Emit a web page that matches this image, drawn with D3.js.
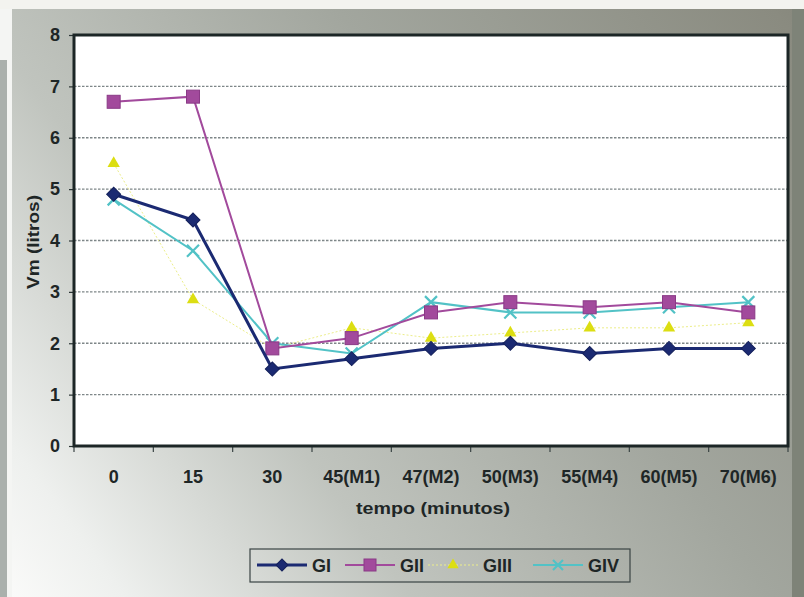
<!DOCTYPE html>
<html>
<head>
<meta charset="utf-8">
<script src="https://cdn.jsdelivr.net/npm/d3@7"></script>
<style>
  html, body { margin: 0; padding: 0; background: #ffffff; }
  svg { display: block; }
  text { font-family: "Liberation Sans", Arial, sans-serif; font-weight: bold; fill: #1e2626; }
</style>
</head>
<body>
<svg id="chart" width="804" height="597"></svg>
<script>
// Tempos de coleta (eixo X)
const categories = ["0", "15", "30", "45(M1)", "47(M2)", "50(M3)", "55(M4)", "60(M5)", "70(M6)"];
// Volume minuto (litros) por grupo
const gI   = [4.9, 4.4, 1.5, 1.7, 1.9, 2.0, 1.8, 1.9, 1.9];
const gII  = [6.7, 6.8, 1.9, 2.1, 2.6, 2.8, 2.7, 2.8, 2.6];
const gIII = [5.5, 2.85, 1.9, 2.3, 2.1, 2.2, 2.3, 2.3, 2.4];
const gIV  = [4.8, 3.8, 2.0, 1.8, 2.8, 2.6, 2.6, 2.7, 2.8];
const seriesNames = ["GI", "GII", "GIII", "GIV"];
const yTicks = [0, 1, 2, 3, 4, 5, 6, 7, 8];

const svg = d3.select("#chart");
const W = 804, H = 597;
const plot = { left: 74, top: 35, right: 788, bottom: 446 };

// Background: scanned-page grey fading to white toward the lower left
const defs = svg.append("defs");
const bg = defs.append("linearGradient").attr("id", "bg")
  .attr("gradientUnits", "userSpaceOnUse")
  .attr("x1", 0).attr("y1", 597).attr("x2", 804).attr("y2", 0);
[[0.0, "#fbfbfa"], [0.1, "#eef0ee"], [0.33, "#c0c4be"], [0.62, "#a2a69e"], [0.97, "#8a8b80"], [1, "#86877c"]]
  .forEach(([o, c]) => bg.append("stop").attr("offset", o).attr("stop-color", c));
svg.append("rect").attr("width", W).attr("height", H).attr("fill", "url(#bg)");
svg.append("rect").attr("x", 0).attr("y", 0).attr("width", W).attr("height", 9).attr("fill", "#f3f3ef");
svg.append("rect").attr("x", 0).attr("y", 9).attr("width", 12).attr("height", H - 9).attr("fill", "#f4f5f3");
svg.append("rect").attr("x", 0).attr("y", 60).attr("width", 7).attr("height", H - 60).attr("fill", "#aab0ac");
svg.append("rect").attr("x", 792).attr("y", 9).attr("width", 12).attr("height", H - 9).attr("fill", "#7e8378");

const x = d3.scaleBand().domain(categories).range([plot.left, plot.right]);
const y = d3.scaleLinear().domain([0, 8]).range([plot.bottom, plot.top]);
const cx = d => x(d) + x.bandwidth() / 2;

// Plot area
svg.append("rect")
  .attr("x", plot.left).attr("y", plot.top)
  .attr("width", plot.right - plot.left).attr("height", plot.bottom - plot.top)
  .attr("fill", "#ffffff");

// Horizontal gridlines
svg.append("g").selectAll("line").data(yTicks.filter(t => t > 0 && t < 8)).join("line")
  .attr("x1", plot.left).attr("x2", plot.right)
  .attr("y1", d => y(d)).attr("y2", d => y(d))
  .attr("stroke", "#7e8688").attr("stroke-width", 1.3)
  .attr("stroke-dasharray", "2.5,1.5");

// Y axis
const yAxis = svg.append("g").attr("transform", `translate(${plot.left},0)`)
  .call(d3.axisLeft(y).tickValues(yTicks).tickSize(5).tickPadding(9).tickFormat(d3.format("d")));
yAxis.select(".domain").remove();
yAxis.selectAll("line").attr("stroke", "#2a3434").attr("stroke-width", 1.2);
yAxis.selectAll("text").attr("font-size", 18).attr("fill", "#1e2626")
  .style("font-family", "'Liberation Sans', Arial, sans-serif").style("font-weight", "bold");

// X axis
const xAxis = svg.append("g").attr("transform", `translate(0,${plot.bottom})`)
  .call(d3.axisBottom(x).tickSize(0).tickPadding(24));
xAxis.select(".domain").remove();
xAxis.selectAll("text").attr("font-size", 18).attr("fill", "#1e2626")
  .style("font-family", "'Liberation Sans', Arial, sans-serif").style("font-weight", "bold");
// tick marks on the category boundaries
svg.append("g").selectAll("line").data(categories.concat(["end"])).join("line")
  .attr("x1", (d, i) => plot.left + i * x.bandwidth())
  .attr("x2", (d, i) => plot.left + i * x.bandwidth())
  .attr("y1", plot.bottom).attr("y2", plot.bottom + 6)
  .attr("stroke", "#3a4444").attr("stroke-width", 1.2);

// Plot frame
svg.append("rect")
  .attr("x", plot.left).attr("y", plot.top)
  .attr("width", plot.right - plot.left).attr("height", plot.bottom - plot.top)
  .attr("fill", "none").attr("stroke", "#1c2626").attr("stroke-width", 3);

// Axis titles
svg.append("text").attr("x", 433).attr("y", 514).attr("text-anchor", "middle")
  .attr("font-size", 17).attr("textLength", 154).attr("lengthAdjust", "spacingAndGlyphs")
  .text("tempo (minutos)");
svg.append("text").attr("transform", "translate(39,242) rotate(-90)").attr("text-anchor", "middle")
  .attr("font-size", 17).attr("textLength", 94).attr("lengthAdjust", "spacingAndGlyphs")
  .text("Vm (litros)");

// Series styles
const styles = [
  { name: "GI",   values: gI,   color: "#1b2a72", width: 3,   dash: null,  marker: "diamond" },
  { name: "GII",  values: gII,  color: "#a24a9c", width: 2,   dash: null,  marker: "square" },
  { name: "GIII", values: gIII, color: "#ecee8a", width: 1,   dash: "2,2", marker: "triangle" },
  { name: "GIV",  values: gIV,  color: "#52c2c6", width: 2,   dash: null,  marker: "cross" }
];

const line = d3.line().x((d, i) => cx(categories[i])).y(d => y(d));

function drawMarker(g, type, color, px, py, s) {
  if (type === "diamond") {
    const a = s / Math.SQRT2;
    g.append("rect").attr("x", -a / 2).attr("y", -a / 2).attr("width", a).attr("height", a)
      .attr("transform", `translate(${px},${py}) rotate(45)`)
      .attr("fill", color).attr("stroke", "#14205a").attr("stroke-width", 1);
  } else if (type === "square") {
    g.append("rect").attr("x", px - s / 2).attr("y", py - s / 2).attr("width", s).attr("height", s)
      .attr("fill", color).attr("stroke", "#8a3a86").attr("stroke-width", 1);
  } else if (type === "triangle") {
    g.append("path").attr("d", d3.symbol(d3.symbolTriangle, s * 5.5)()).attr("transform", `translate(${px},${py})`)
      .attr("fill", "#dcde12");
  } else if (type === "cross") {
    const h = s / 2;
    g.append("path").attr("d", `M${px - h},${py - h}L${px + h},${py + h}M${px - h},${py + h}L${px + h},${py - h}`)
      .attr("stroke", color).attr("stroke-width", 2.2).attr("fill", "none");
  }
}

const sizes = { diamond: 14, square: 13, triangle: 12, cross: 12 };
const legendSizes = { diamond: 12, square: 12, triangle: 10, cross: 10 };

// draw in order so GI ends up on top
[styles[2], styles[3], styles[1], styles[0]].forEach(s => {
  const g = svg.append("g");
  g.append("path").datum(s.values).attr("d", line)
    .attr("fill", "none").attr("stroke", s.color).attr("stroke-width", s.width)
    .attr("stroke-dasharray", s.dash);
  s.values.forEach((v, i) => drawMarker(g, s.marker, s.color, cx(categories[i]), y(v), sizes[s.marker]));
});

// Legend
const lg = svg.append("g");
lg.append("rect").attr("x", 250).attr("y", 549).attr("width", 380).attr("height", 33)
  .attr("fill", "none").attr("stroke", "#3a4444").attr("stroke-width", 1.2);
const legendX = [257, 345, 428, 533];
styles.forEach((s, i) => {
  const x0 = legendX[i], yy = 565;
  lg.append("line").attr("x1", x0).attr("x2", x0 + 50).attr("y1", yy).attr("y2", yy)
    .attr("stroke", s.color).attr("stroke-width", s.width).attr("stroke-dasharray", s.dash);
  drawMarker(lg, s.marker, s.color, x0 + 25, yy, legendSizes[s.marker]);
  lg.append("text").attr("x", x0 + 55).attr("y", yy + 6.5).attr("font-size", 18)
    .attr("fill", "#1e2626").text(s.name);
});
</script>
</body>
</html>
